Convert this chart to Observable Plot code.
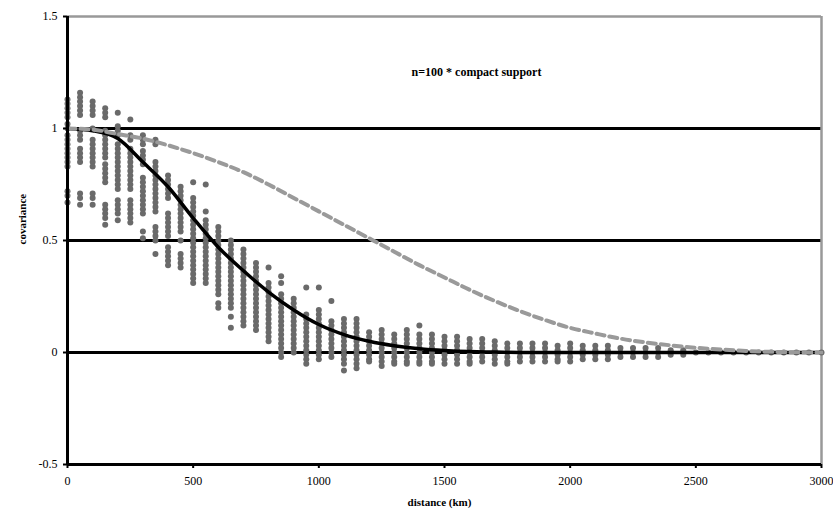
<!DOCTYPE html>
<html><head><meta charset="utf-8">
<script src="https://cdn.jsdelivr.net/npm/d3@7"></script>
<script src="https://cdn.jsdelivr.net/npm/@observablehq/plot@0.6"></script>
<style>
html,body{margin:0;padding:0;background:#fff}
#chart{width:833px;height:511px}
#chart svg, #chart svg text{font-family:"Liberation Serif","Tinos","DejaVu Serif","Times New Roman",Times,serif !important}
</style>
</head><body><div id="chart"></div>
<script>
const xTicks = [0, 500, 1000, 1500, 2000, 2500, 3000];
const xTickLabels = ["0", "500", "1000", "1500", "2000", "2500", "3000"];
const yTicks = [-0.5, 0, 0.5, 1, 1.5];
const yTickLabels = ["-0.5", "0", "0.5", "1", "1.5"];
const gridValues = [0, 0.5, 1];
const titleText = "n=100 * compact support";
const xLabel = "distance (km)";
const yLabel = "covariance";

// curves, read every 100 km
const curveDistance = [0,100,200,300,400,500,600,700,800,900,1000,1100,1200,1300,1400,1500,1600,1700,1800,1900,2000,2100,2200,2300,2400,2500,2600,2700,2800,2900,3000];
const compactCurve = [1.0,0.99,0.955,0.85,0.74,0.6,0.47,0.365,0.27,0.19,0.125,0.08,0.05,0.03,0.017,0.009,0.004,0.002,0,0,0,0,0,0,0,0,0,0,0,0,0];
const wideCurve = [1.0,0.995,0.975,0.955,0.925,0.89,0.85,0.805,0.75,0.69,0.63,0.57,0.51,0.45,0.39,0.335,0.28,0.23,0.185,0.145,0.11,0.085,0.062,0.045,0.032,0.021,0.013,0.007,0.003,0.001,0];

// sample covariances, one column every 50 km
const sampleDistance = [0,50,100,150,200,250,300,350,400,450,500,550,600,650,700,750,800,850,900,950,1000,1050,1100,1150,1200,1250,1300,1350,1400,1450,1500,1550,1600,1650,1700,1750,1800,1850,1900,1950,2000,2050,2100,2150,2200,2250,2300,2350,2400,2450,2500,2550,2600,2650,2700,2750,2800,2850,2900,2950,3000];
const sampleValues = [
  [1.13,1.11,1.09,1.07,1.05,1.02,1.0,0.97,0.95,0.93,0.91,0.89,0.87,0.85,0.83,0.72,0.70,0.67],
  [1.16,1.14,1.12,1.10,1.08,1.06,0.99,0.97,0.95,0.91,0.89,0.87,0.85,0.71,0.69,0.66],
  [1.12,1.10,1.08,1.06,1.0,0.95,0.93,0.91,0.89,0.87,0.85,0.83,0.71,0.69,0.66],
  [1.09,1.07,1.05,0.99,0.97,0.95,0.93,0.91,0.89,0.87,0.84,0.82,0.80,0.78,0.76,0.66,0.64,0.62,0.60,0.57],
  [1.07,1.01,0.99,0.97,0.93,0.91,0.89,0.87,0.85,0.83,0.81,0.79,0.77,0.75,0.73,0.68,0.66,0.64,0.62,0.59],
  [1.04,0.97,0.95,0.91,0.89,0.87,0.85,0.83,0.81,0.79,0.77,0.75,0.73,0.68,0.66,0.64,0.62,0.60,0.58],
  [0.97,0.95,0.93,0.90,0.88,0.86,0.84,0.78,0.76,0.74,0.72,0.70,0.68,0.66,0.64,0.62,0.54,0.51],
  [0.95,0.93,0.85,0.83,0.81,0.79,0.77,0.75,0.73,0.71,0.69,0.67,0.65,0.63,0.56,0.54,0.52,0.50,0.44],
  [0.79,0.77,0.75,0.73,0.71,0.69,0.62,0.60,0.58,0.56,0.54,0.52,0.47,0.45,0.43,0.41,0.39],
  [0.74,0.72,0.70,0.68,0.66,0.64,0.62,0.60,0.58,0.56,0.54,0.50,0.44,0.42,0.40,0.38],
  [0.76,0.69,0.67,0.65,0.63,0.61,0.59,0.57,0.55,0.53,0.51,0.49,0.47,0.45,0.43,0.41,0.39,0.37,0.35,0.33,0.31],
  [0.75,0.63,0.59,0.57,0.55,0.53,0.51,0.49,0.47,0.45,0.43,0.41,0.39,0.37,0.35,0.33,0.31],
  [0.56,0.54,0.52,0.50,0.48,0.46,0.44,0.42,0.40,0.38,0.36,0.34,0.32,0.30,0.28,0.26,0.22,0.20],
  [0.50,0.48,0.46,0.44,0.42,0.40,0.38,0.36,0.34,0.32,0.30,0.28,0.26,0.24,0.22,0.20,0.16,0.11],
  [0.46,0.44,0.42,0.40,0.38,0.36,0.34,0.32,0.30,0.28,0.26,0.24,0.22,0.20,0.18,0.16,0.14,0.12],
  [0.40,0.38,0.36,0.34,0.32,0.30,0.28,0.26,0.24,0.22,0.20,0.18,0.16,0.14,0.12,0.10],
  [0.38,0.31,0.29,0.27,0.25,0.23,0.21,0.19,0.17,0.15,0.13,0.11,0.09,0.07,0.05],
  [0.34,0.31,0.26,0.24,0.22,0.20,0.18,0.16,0.14,0.12,0.10,0.08,0.06,0.04,0.02,0.00,-0.02],
  [0.24,0.22,0.20,0.18,0.16,0.14,0.12,0.10,0.08,0.06,0.04,0.02,0.00],
  [0.29,0.17,0.15,0.13,0.11,0.09,0.07,0.05,0.03,0.01,-0.01,-0.03,-0.05],
  [0.29,0.19,0.17,0.15,0.13,0.11,0.09,0.07,0.05,0.03,0.01,-0.01,-0.03],
  [0.23,0.14,0.12,0.10,0.08,0.06,0.04,0.02,0.00,-0.02],
  [0.15,0.13,0.11,0.09,0.07,0.05,0.03,0.01,-0.01,-0.03,-0.05,-0.08],
  [0.15,0.13,0.11,0.09,0.07,0.05,0.03,0.01,-0.01,-0.03,-0.05,-0.07],
  [0.09,0.07,0.05,0.03,0.01,-0.01,-0.03,-0.04],
  [0.10,0.08,0.06,0.04,0.02,0.00,-0.02,-0.04,-0.06],
  [0.08,0.06,0.04,0.02,0.00,-0.02,-0.04,-0.05],
  [0.10,0.08,0.06,0.04,0.02,0.00,-0.02,-0.04,-0.05],
  [0.12,0.08,0.06,0.04,0.02,0.00,-0.02,-0.04,-0.05],
  [0.08,0.06,0.04,0.02,0.00,-0.02,-0.04,-0.05],
  [0.07,0.05,0.03,0.01,-0.01,-0.03,-0.05],
  [0.07,0.05,0.03,0.01,-0.01,-0.03,-0.05],
  [0.06,0.04,0.02,0.00,-0.02,-0.04,-0.05],
  [0.06,0.04,0.02,0.00,-0.02,-0.04],
  [0.05,0.03,0.01,-0.01,-0.03,-0.05],
  [0.04,0.02,0.00,-0.02,-0.04,-0.05],
  [0.04,0.02,0.00,-0.02,-0.04],
  [0.04,0.02,0.00,-0.02,-0.04],
  [0.04,0.02,0.00,-0.02,-0.04],
  [0.03,0.01,-0.01,-0.03,-0.04],
  [0.04,0.02,0.00,-0.02,-0.04],
  [0.03,0.01,-0.01,-0.03],
  [0.03,0.01,-0.01,-0.03],
  [0.03,0.01,-0.01,-0.03],
  [0.02,0.00,-0.02],
  [0.02,0.00,-0.02],
  [0.02,0.00,-0.02],
  [0.02,0.00,-0.02],
  [0.01,-0.01],
  [0.01,-0.01],
  [0],[0],[0],[0],[0],[0],[0],[0],[0],[0],[0]
];

const curves = curveDistance.map((d, i) => ({d, compact: compactCurve[i], wide: wideCurve[i]}));
const samples = sampleDistance.flatMap((d, i) => sampleValues[i].map(v => ({d, v})));

const serif = "'Liberation Serif', Tinos, 'DejaVu Serif', 'Times New Roman', Times, serif";

const chart = Plot.plot({
  width: 833,
  height: 511,
  marginLeft: 67,
  marginRight: 12,
  marginTop: 16,
  marginBottom: 47,
  style: `font-family: ${serif}; font-size: 12px; background: #fff; color: #000;`,
  x: {domain: [0, 3000], axis: null},
  y: {domain: [-0.5, 1.5], axis: null},
  marks: [
    Plot.ruleY(gridValues, {stroke: "#000", strokeWidth: 3}),
    Plot.ruleY([1.5], {stroke: "#999", strokeWidth: 2.5}),
    Plot.ruleX([3000], {stroke: "#999", strokeWidth: 2.5}),
    Plot.dot(samples, {x: "d", y: "v", r: 3, fill: "#6a6a6a", stroke: "none"}),
    Plot.line(curves, {x: "d", y: "compact", stroke: "#000", strokeWidth: 3.5, curve: "monotone-x"}),
    Plot.line(curves, {x: "d", y: "wide", stroke: "#9a9a9a", strokeWidth: 4, strokeDasharray: "8,5", curve: "monotone-x"}),
    Plot.ruleX([0], {stroke: "#000", strokeWidth: 3}),
    Plot.ruleY([-0.5], {stroke: "#000", strokeWidth: 3}),
    Plot.axisY({ticks: yTicks, tickFormat: d => yTickLabels[yTicks.indexOf(d)], tickSize: 4, tickPadding: 6, strokeWidth: 2, label: null, fontSize: 12, fontFamily: serif}),
    Plot.axisX({ticks: xTicks, tickFormat: d => xTickLabels[xTicks.indexOf(d)], tickSize: 4, tickPadding: 8, strokeWidth: 2, label: null, fontSize: 12, fontFamily: serif}),
    Plot.text([titleText], {frameAnchor: "top", dx: 32, dy: 56, fontWeight: "bold", fontSize: 12, lineAnchor: "middle", fontFamily: serif}),
    Plot.text([xLabel], {frameAnchor: "bottom", dx: -5, dy: 38, fontWeight: "bold", fontSize: 11, lineAnchor: "middle", fontFamily: serif}),
    Plot.text([yLabel], {frameAnchor: "left", dx: -45, dy: 4, rotate: -90, fontWeight: "bold", fontSize: 11, lineAnchor: "middle", fontFamily: serif})
  ]
});
document.getElementById("chart").appendChild(chart);
</script>
</body></html>
